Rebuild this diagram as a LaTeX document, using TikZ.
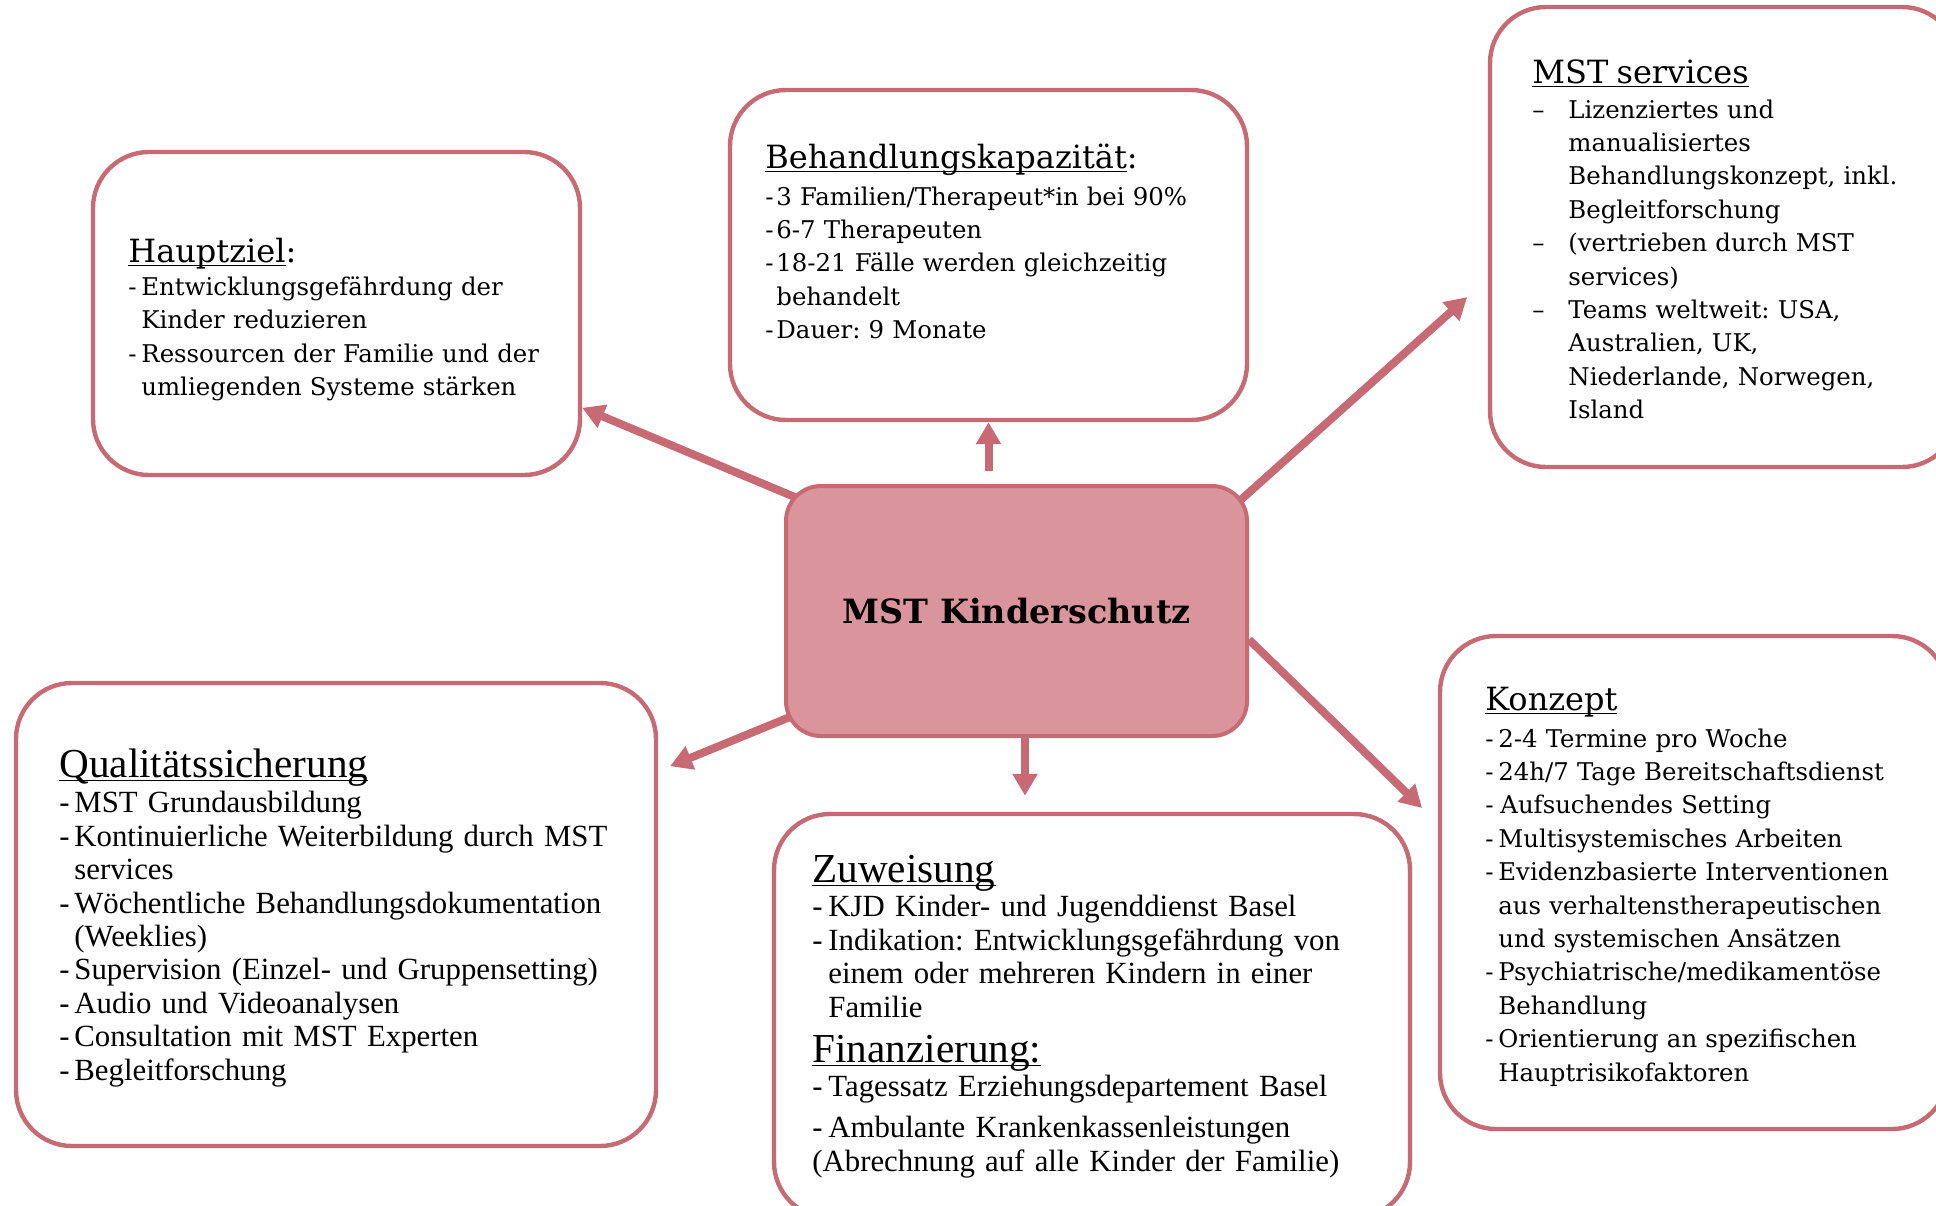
\documentclass[tikz,border=0pt]{standalone}
\usepackage{fontspec}
\setmainfont{DejaVu Serif}
\newfontfamily\narrowfont{Liberation Serif}
\usetikzlibrary{arrows.meta, backgrounds}
\definecolor{mstrose}{RGB}{199,106,116}
\definecolor{mstfill}{RGB}{217,149,155}
\newcommand{\ulh}[1]{\leavevmode\setbox0\hbox{#1}\rlap{\rule[-2.2pt]{\wd0}{0.8pt}}\box0}
\newcommand{\dsh}[1][6.5pt]{\makebox[#1][l]{-}}
\newcommand{\dind}[1][6.5pt]{\hspace*{#1}}
\frenchspacing

\begin{document}
\begin{tikzpicture}[x=0.5pt, y=-0.5pt,
    panel/.style={draw=mstrose, line width=2.2pt, rounded corners=28pt, inner sep=0pt},
    core/.style={draw=mstrose, line width=2pt, fill=mstfill, rounded corners=17.5pt,
      minimum width=230.5pt, minimum height=125pt,
      font=\bfseries\fontsize{16.7}{20}\selectfont},
    txt/.style={inner sep=0pt, anchor=base west, align=left, text width=330pt,
      font=\fontsize{12.2}{16.7}\selectfont},
    ntxt/.style={txt, font=\narrowfont\fontsize{15.4}{16.7}\selectfont},
    arr/.style={mstrose, line width=4pt, -{Triangle[length=11pt,width=12pt]}}]
  \useasboundingbox (0,0) rectangle (1936,1205);

  % Central box
  \node[core] (core) at (1016.5,611) {MST Kinderschutz};

  % Outer boxes
  \node[panel, minimum width=243.5pt, minimum height=161.5pt] (hz) at (336.5,313.5) {};
  \node[panel, minimum width=258.5pt, minimum height=165pt] (beh) at (988.5,255) {};
  \node[panel, minimum width=234pt, minimum height=230pt] (mst) at (1724,237) {};
  \node[panel, minimum width=320pt, minimum height=231.5pt] (qs) at (336,914.5) {};
  \node[panel, minimum width=318pt, minimum height=202pt] (zuw) at (1092,1016) {};
  \node[panel, minimum width=254pt, minimum height=246.5pt] (konz) at (1694,882.5) {};

  % Hauptziel
  \node[txt] (hztxt) at (128,262) {{\fontsize{16}{16.7}\selectfont\ulh{Hauptziel}:}\\
    \dsh Entwicklungsgefährdung der\\
    \dind Kinder reduzieren\\
    \dsh Ressourcen der Familie und der\\
    \dind umliegenden Systeme stärken};

  % Behandlungskapazitaet
  \node[txt] (behtxt) at (765,168) {{\fontsize{16}{16.7}\selectfont\ulh{Behandlungskapazität}:}\\[1.8pt]
    \dsh[5.5pt]3 Familien/Therapeut*in bei 90\%\\
    \dsh[5.5pt]6-7 Therapeuten\\
    \dsh[5.5pt]18-21 Fälle werden gleichzeitig\\
    \dind[5.5pt]behandelt\\
    \dsh[5.5pt]Dauer: 9 Monate};

  % MST services
  \node[txt] (msttxt) at (1532,83) {{\fontsize{16}{16.7}\selectfont\ulh{MST services}}\\[0.8pt]
    \makebox[18pt][l]{--}Lizenziertes und\\
    \dind[18pt]manualisiertes\\
    \dind[18pt]Behandlungskonzept, inkl.\\
    \dind[18pt]Begleitforschung\\
    \makebox[18pt][l]{--}(vertrieben durch MST\\
    \dind[18pt]services)\\
    \makebox[18pt][l]{--}Teams weltweit: USA,\\
    \dind[18pt]Australien, UK,\\
    \dind[18pt]Niederlande, Norwegen,\\
    \dind[18pt]Island};

  % Qualitaetssicherung
  \node[ntxt] (qstxt) at (59,777) {{\fontsize{20.6}{16.7}\selectfont\ulh{Qualitätssicherung}}\\[1.2pt]
    \dsh[7.5pt]MST Grundausbildung\\
    \dsh[7.5pt]Kontinuierliche Weiterbildung durch MST\\
    \dind[7.5pt]services\\
    \dsh[7.5pt]Wöchentliche Behandlungsdokumentation\\
    \dind[7.5pt](Weeklies)\\
    \dsh[7.5pt]Supervision (Einzel- und Gruppensetting)\\
    \dsh[7.5pt]Audio und Videoanalysen\\
    \dsh[7.5pt]Consultation mit MST Experten\\
    \dsh[7.5pt]Begleitforschung};

  % Zuweisung und Finanzierung
  \node[ntxt] (zuwtxt) at (812,882) {{\fontsize{20.6}{16.7}\selectfont\ulh{Zuweisung}}\\[0.7pt]
    \dsh[8pt]KJD Kinder- und Jugenddienst Basel\\
    \dsh[8pt]Indikation: Entwicklungsgefährdung von\\
    \dind[8pt]einem oder mehreren Kindern in einer\\
    \dind[8pt]Familie\\[5.8pt]
    {\fontsize{20.6}{16.7}\selectfont\ulh{Finanzierung:}}\\[0.3pt]
    \dsh[8pt]Tagessatz Erziehungsdepartement Basel\\[3.8pt]
    \dsh[8pt]Ambulante Krankenkassenleistungen\\[0.3pt]
    (Abrechnung auf alle Kinder der Familie)};

  % Konzept
  \node[txt] (konztxt) at (1485,710) {{\fontsize{16}{16.7}\selectfont\ulh{Konzept}}\\[1.8pt]
    \dsh 2-4 Termine pro Woche\\
    \dsh 24h/7 Tage Bereitschaftsdienst\\
    \dsh[7.5pt]Aufsuchendes Setting\\
    \dsh Multisystemisches Arbeiten\\
    \dsh Evidenzbasierte Interventionen\\
    \dind aus verhaltenstherapeutischen\\
    \dind und systemischen Ansätzen\\
    \dsh Psychiatrische/medikamentöse\\
    \dind Behandlung\\
    \dsh Orientierung an spezifischen\\
    \dind Hauptrisikofaktoren};

  % Arrows from the centre
  \begin{scope}[on background layer]
    \draw[arr, shorten <=-10pt] (core.153) -- (hz.-21.6);
    \draw[arr, shorten <=6.5pt] (beh.south |- core.north) -- (beh.south);
    \draw[arr, shorten <=-10pt, shorten >=13.8pt] (core.27.5) -- (mst.190.7);
    \draw[arr, shorten >=11pt] (core.-7.7) -- (konz.167.7);
    \draw[arr, shorten >=8pt] ([xshift=4.25pt]core.south) -- ([xshift=4.25pt]core.south |- zuw.north);
    \draw[arr, shorten <=-5pt, shorten >=6.4pt] (core.205.4) -- (qs.24.7);
  \end{scope}
\end{tikzpicture}
\end{document}
